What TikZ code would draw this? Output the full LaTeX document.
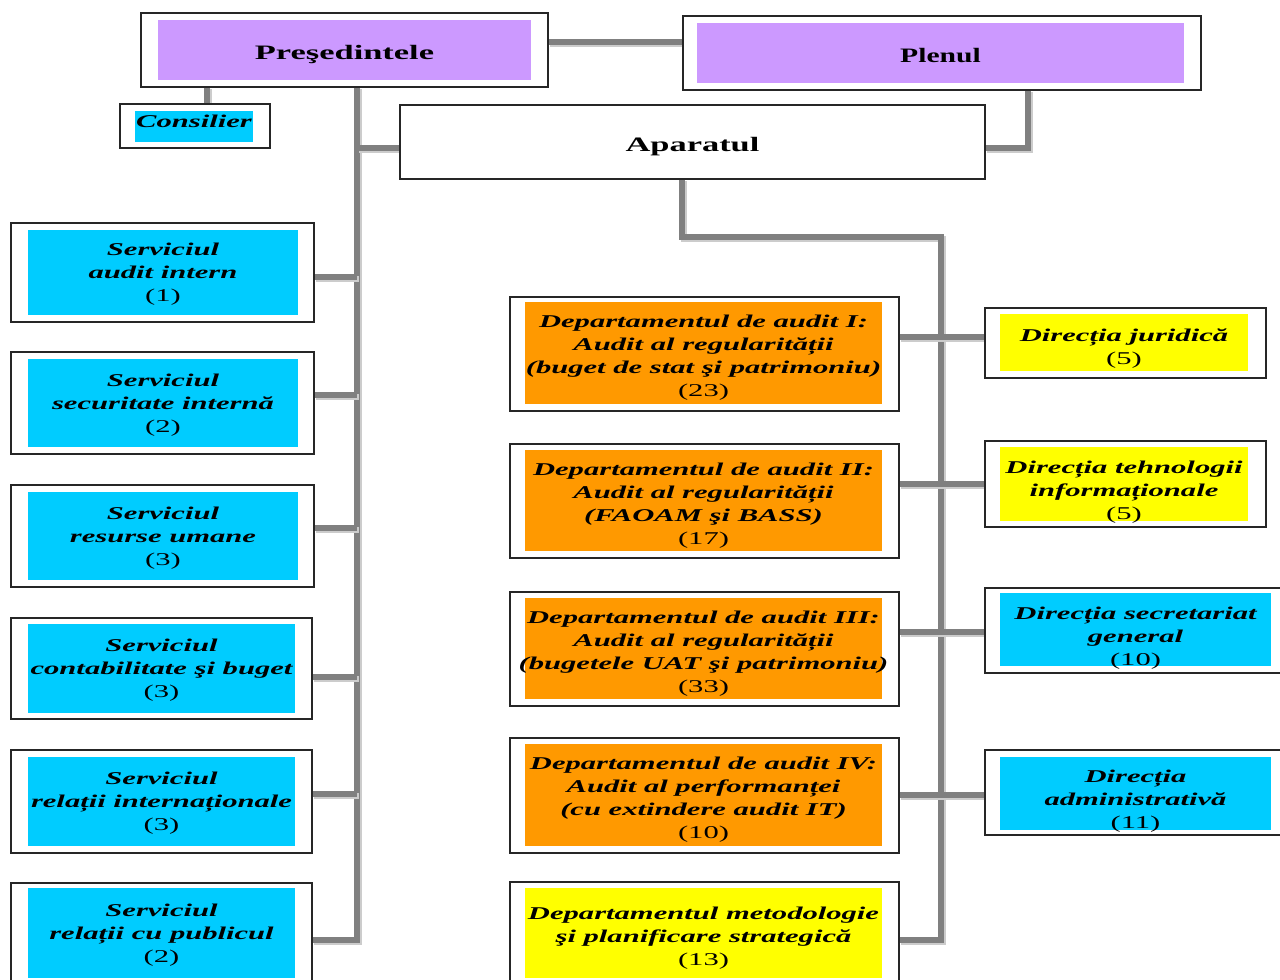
\documentclass[tikz,border=0pt]{standalone}
\usepackage{fontspec}
\setmainfont{Liberation Serif}
\newfontfamily\stretchf[FakeStretch=1.7]{Liberation Serif}
\newfontfamily\titlef[FakeStretch=1.68]{Liberation Serif}
\usetikzlibrary{calc}
\pgfdeclarelayer{bg}
\pgfdeclarelayer{back}
\pgfsetlayers{back,bg,main}
\definecolor{cpurple}{HTML}{CC99FF}
\definecolor{ccyan}{HTML}{00CCFF}
\definecolor{corange}{HTML}{FF9900}
\definecolor{cyellow}{HTML}{FFFF00}
\definecolor{cgray}{HTML}{808080}
\newcommand\bodyfont{\stretchf\bfseries\itshape\fontsize{18}{23}\selectfont}
\newcommand\titlefont{\titlef\bfseries\upshape\fontsize{20.5}{24}\selectfont}
\newcommand\nr[1]{{\upshape\mdseries #1}}
\newcommand\tshift{5}
\newcommand\outerbox[5]{\node[outerbox, minimum width={(#4-#2)*1pt}, minimum height={(#5-#3)*1pt}] (#1) at ({(#2+#4)/2},{(#3+#5)/2}) {};}
\newcommand\innerbox[7]{\node[fillbox, fill=#6, minimum width={(#4-#2)*1pt}, minimum height={(#5-#3)*1pt}] (#1) at ({(#2+#4)/2},{(#3+#5)/2}) {};
  \node[boxtext] (#1t) at ($(#1.center)+(0,\tshift)$) {#7};}
\tikzset{
  outerbox/.style={draw=black!85, line width=1.3pt, fill=white, inner sep=0pt, outer sep=0pt},
  fillbox/.style={inner sep=0pt, outer sep=0pt},
  boxtext/.style={inner sep=0pt, align=center, font=\bodyfont},
  titletext/.style={inner sep=0pt, font=\titlefont},
  conn/.style={draw=cgray, line width=6.5pt,
    preaction={draw=black!20, line width=6.5pt, transform canvas={xshift=2pt,yshift=-2pt}}},
}
\begin{document}
\begin{tikzpicture}[x=1pt,y=-1pt]
\useasboundingbox (0,0) rectangle (1280,980);
\clip (0,0) rectangle (1280,980);
\begin{pgfonlayer}{back}
\fill[white] (0,0) rectangle (1280,980);
\end{pgfonlayer}

% top
\outerbox{pres}{141}{13}{548}{87}
\node[fillbox, fill=cpurple, minimum width=373pt, minimum height=60pt] (presi) at (344.5,50) {};
\node[titletext] (presit) at ($(presi.center)+(0,4)$) {Preşedintele};
\outerbox{plen}{683}{16}{1201}{90}
\node[fillbox, fill=cpurple, minimum width=487pt, minimum height=60pt] (pleni) at (940.5,53) {};
\node[titletext] (plenit) at ($(pleni.center)+(0,3)$) {\scalebox{0.86}[1]{Plenul}};
\outerbox{cons}{120}{104}{270}{148}
\node[fillbox, fill=ccyan, minimum width=118pt, minimum height=31pt] (consi) at (194,126.5) {};
\node[boxtext] (consit) at ($(consi.center)+(0,-5)$) {Consilier};
\node[outerbox, minimum width=585pt, minimum height=74pt] (apar) at (692.5,142) {};
\node[titletext] (apart) at ($(apar.center)+(0,5)$) {Aparatul};

% left column
\renewcommand\tshift{2}
\outerbox{s1}{11}{223}{314}{322}
\innerbox{s1i}{28}{230}{298}{315}{ccyan}{Serviciul\\audit intern\\\nr{(1)}}
\outerbox{s2}{11}{352}{314}{454}
\innerbox{s2i}{28}{359}{298}{447}{ccyan}{Serviciul\\securitate internă\\\nr{(2)}}
\outerbox{s3}{11}{485}{314}{587}
\innerbox{s3i}{28}{492}{298}{580}{ccyan}{Serviciul\\resurse umane\\\nr{(3)}}
\outerbox{s4}{11}{618}{312}{719}
\innerbox{s4i}{28}{624}{295}{713}{ccyan}{Serviciul\\contabilitate şi buget\\\nr{(3)}}
\outerbox{s5}{11}{750}{312}{853}
\innerbox{s5i}{28}{757}{295}{846}{ccyan}{Serviciul\\relații internaționale\\\nr{(3)}}
\outerbox{s6}{11}{883}{312}{990}
\innerbox{s6i}{28}{888}{295}{978}{ccyan}{Serviciul\\relații cu publicul\\\nr{(2)}}

% middle column
\renewcommand\tshift{5}
\outerbox{m1}{510}{297}{899}{411}
\innerbox{m1i}{525}{302}{882}{404}{corange}{Departamentul de audit I:\\Audit al regularității\\(buget de stat şi patrimoniu)\\\nr{(23)}}
\outerbox{m2}{510}{444}{899}{558}
\innerbox{m2i}{525}{450}{882}{551}{corange}{Departamentul de audit II:\\Audit al regularității\\(FAOAM şi BASS)\\\nr{(17)}}
\outerbox{m3}{510}{592}{899}{706}
\innerbox{m3i}{525}{598}{882}{699}{corange}{Departamentul de audit III:\\Audit al regularității\\(bugetele UAT şi patrimoniu)\\\nr{(33)}}
\outerbox{m4}{510}{738}{899}{853}
\innerbox{m4i}{525}{744}{882}{846}{corange}{Departamentul de audit IV:\\Audit al performanței\\(cu extindere audit IT)\\\nr{(10)}}
\outerbox{m5}{510}{882}{899}{990}
\innerbox{m5i}{525}{888}{882}{978}{cyellow}{Departamentul metodologie\\şi planificare strategică\\\nr{(13)}}

% right column
\renewcommand\tshift{6}
\outerbox{r1}{985}{308}{1266}{378}
\innerbox{r1i}{1000}{314}{1248}{371}{cyellow}{Direcția juridică\\\nr{(5)}}
\renewcommand\tshift{8}
\outerbox{r2}{985}{441}{1266}{527}
\innerbox{r2i}{1000}{447}{1248}{521}{cyellow}{Direcția tehnologii\\informaționale\\\nr{(5)}}
\renewcommand\tshift{9}
\outerbox{r3}{985}{588}{1290}{673}
\innerbox{r3i}{1000}{593}{1271}{666}{ccyan}{Direcția secretariat\\general\\\nr{(10)}}
\renewcommand\tshift{8}
\outerbox{r4}{985}{750}{1290}{835}
\innerbox{r4i}{1000}{757}{1271}{830}{ccyan}{Direcția\\administrativă\\\nr{(11)}}

% connectors
\coordinate (pp) at (600,42);
\coordinate (kc) at (207,0);
\coordinate (tL) at (357,87);
\coordinate (tLb) at (357,940);
\coordinate (ka) at (357,148);
\coordinate (pk) at (1028,148);
\coordinate (ak) at (682,237);
\coordinate (tR) at (941,237);
\coordinate (tRb) at (941,940);
\coordinate (y1) at (357,277);
\coordinate (y2) at (357,395);
\coordinate (y3) at (357,528);
\coordinate (y4) at (357,677);
\coordinate (y5) at (357,794);
\coordinate (z1) at (941,337);
\coordinate (z2) at (941,484);
\coordinate (z3) at (941,632);
\coordinate (z4) at (941,795);
\begin{pgfonlayer}{bg}
\draw[conn] (pres.east |- pp) -- (plen.west |- pp);
\draw[conn] (pres.south -| kc) -- (cons.north -| kc);
\draw[conn] (pres.south -| tL) -- (tLb) -- (s6.east |- tLb);
\draw[conn] (ka) -- (apar.west |- ka);
\draw[conn] (plen.south -| pk) -- (pk) -- (apar.east |- pk);
\draw[conn] (apar.south -| ak) -- (ak) -- (tR) -- (tRb) -- (m5.east |- tRb);
\draw[conn] (s1.east |- y1) -- (y1);
\draw[conn] (s2.east |- y2) -- (y2);
\draw[conn] (s3.east |- y3) -- (y3);
\draw[conn] (s4.east |- y4) -- (y4);
\draw[conn] (s5.east |- y5) -- (y5);
\draw[conn] (m1.east |- z1) -- (r1.west |- z1);
\draw[conn] (m2.east |- z2) -- (r2.west |- z2);
\draw[conn] (m3.east |- z3) -- (r3.west |- z3);
\draw[conn] (m4.east |- z4) -- (r4.west |- z4);
\end{pgfonlayer}
\end{tikzpicture}
\end{document}
